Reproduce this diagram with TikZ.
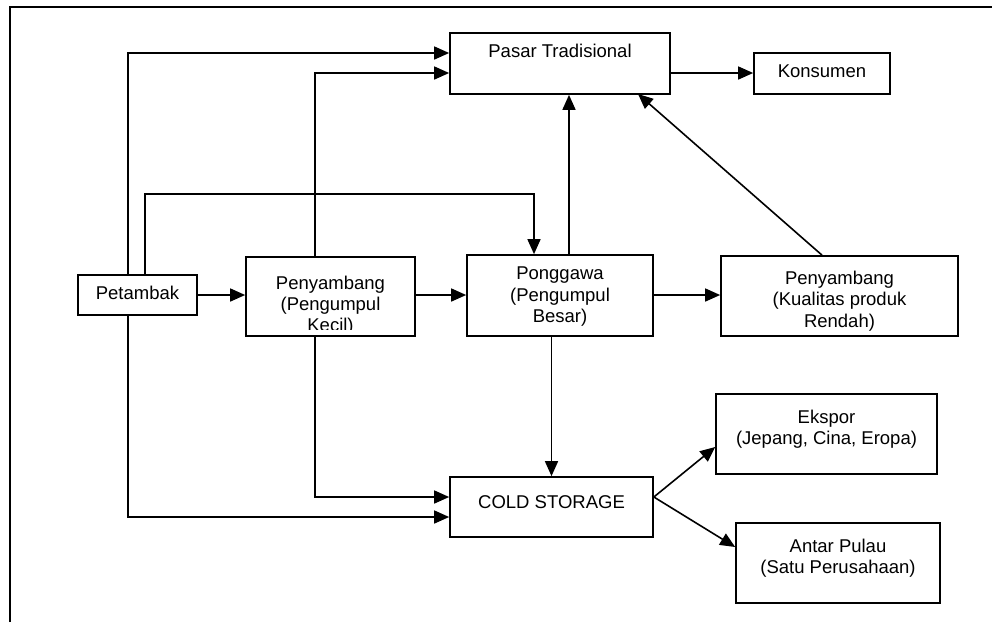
\documentclass[tikz,border=0pt]{standalone}
\usepackage{fontspec}
\setmainfont{Liberation Sans}
\usetikzlibrary{arrows.meta}
\begin{document}
\begin{tikzpicture}[x=1pt,y=-1pt,line width=1.7pt,
  box/.style={draw,line width=1.7pt,inner sep=0pt,fill=none},
  lbl/.style={anchor=base,inner sep=0pt,font=\fontsize{18.5}{21}\selectfont},
  arr/.style={-{Triangle[length=15pt,width=13pt]},line width=1.6pt}]
\useasboundingbox (0,0) rectangle (992,622);
% frame
\draw[line width=2pt] (10,622) -- (10,7) -- (992,7);
% boxes
\node[box,minimum width=220pt,minimum height=61pt] (pasar) at (560,63.5) {};
\node[box,minimum width=136pt,minimum height=41pt] (kons) at (822,73.5) {};
\node[box,minimum width=119pt,minimum height=40pt] (petambak) at (137.5,295) {};
\node[box,minimum width=169pt,minimum height=79pt] (peny1) at (330.5,296.5) {};
\node[box,minimum width=186pt,minimum height=81pt] (pong) at (560,295.5) {};
\node[box,minimum width=237pt,minimum height=80pt] (peny2) at (839.5,296) {};
\node[box,minimum width=203pt,minimum height=60pt] (cold) at (551.5,507) {};
\node[box,minimum width=221pt,minimum height=80pt] (ekspor) at (826.5,434) {};
\node[box,minimum width=204pt,minimum height=80pt] (antar) at (838,563) {};
% texts
\node[lbl] (tpasar) at (560,57) {Pasar Tradisional};
\node[lbl] (tkons) at (822,77) {Konsumen};
\node[lbl] (tpet) at (137.5,299) {Petambak};
\begin{scope}
\clip (248,259) rectangle (413,329.5);
\node[lbl] (tp1a) at (330.5,289) {Penyambang};
\node[lbl] (tp1b) at (330.5,310) {(Pengumpul};
\node[lbl] (tp1c) at (330.5,331) {Kecil)};
\end{scope}
\node[lbl] (tpga) at (560,279) {Ponggawa};
\node[lbl] (tpgb) at (560,301) {(Pengumpul};
\node[lbl] (tpgc) at (560,322) {Besar)};
\node[lbl] (tp2a) at (839.5,284) {Penyambang};
\node[lbl] (tp2b) at (839.5,305) {(Kualitas produk};
\node[lbl] (tp2c) at (839.5,327) {Rendah)};
\node[lbl] (tcold) at (551.5,508) {COLD STORAGE};
\node[lbl] (teka) at (826.5,423) {Ekspor};
\node[lbl] (tekb) at (826.5,444) {(Jepang, Cina, Eropa)};
\node[lbl] (tana) at (838,552) {Antar Pulau};
\node[lbl] (tanb) at (838,573) {(Satu Perusahaan)};
% helper coordinates
\coordinate (p1) at (128,53);
\coordinate (p2) at (145,194);
\coordinate (p2b) at (534,194);
\coordinate (k1) at (315,73);
\coordinate (pg) at (569,0);
\coordinate (q) at (822,0);
\coordinate (r) at (638,94);
\coordinate (c1) at (315,497);
\coordinate (c2) at (128,517);
\coordinate (e1) at (0,447);
\coordinate (a1) at (0,547);
\coordinate (pk) at (0,73);
\coordinate (hy) at (0,295);
% connectors
\draw[arr] (petambak.north -| p1) |- (pasar.west |- p1);
\draw[arr] (petambak.north -| p2) |- (p2b) -- (pong.north -| p2b);
\draw[arr] (peny1.north -| k1) |- (pasar.west |- k1);
\draw[arr] (petambak.east |- hy) -- (peny1.west |- hy);
\draw[arr] (peny1.east |- hy) -- (pong.west |- hy);
\draw[arr] (pong.east |- hy) -- (peny2.west |- hy);
\draw[arr] (pong.north -| pg) -- (pasar.south -| pg);
\draw[arr] (peny2.north -| q) -- (r);
\draw[arr] (pong.south -| cold.north) -- (cold.north);
\draw[arr] (peny1.south -| c1) |- (cold.west |- c1);
\draw[arr] (petambak.south -| c2) |- (cold.west |- c2);
\draw[arr] (cold.east |- c1) -- (ekspor.west |- e1);
\draw[arr] (cold.east |- c1) -- (antar.west |- a1);
\draw[arr] (pasar.east |- pk) -- (kons.west |- pk);
\end{tikzpicture}
\end{document}
